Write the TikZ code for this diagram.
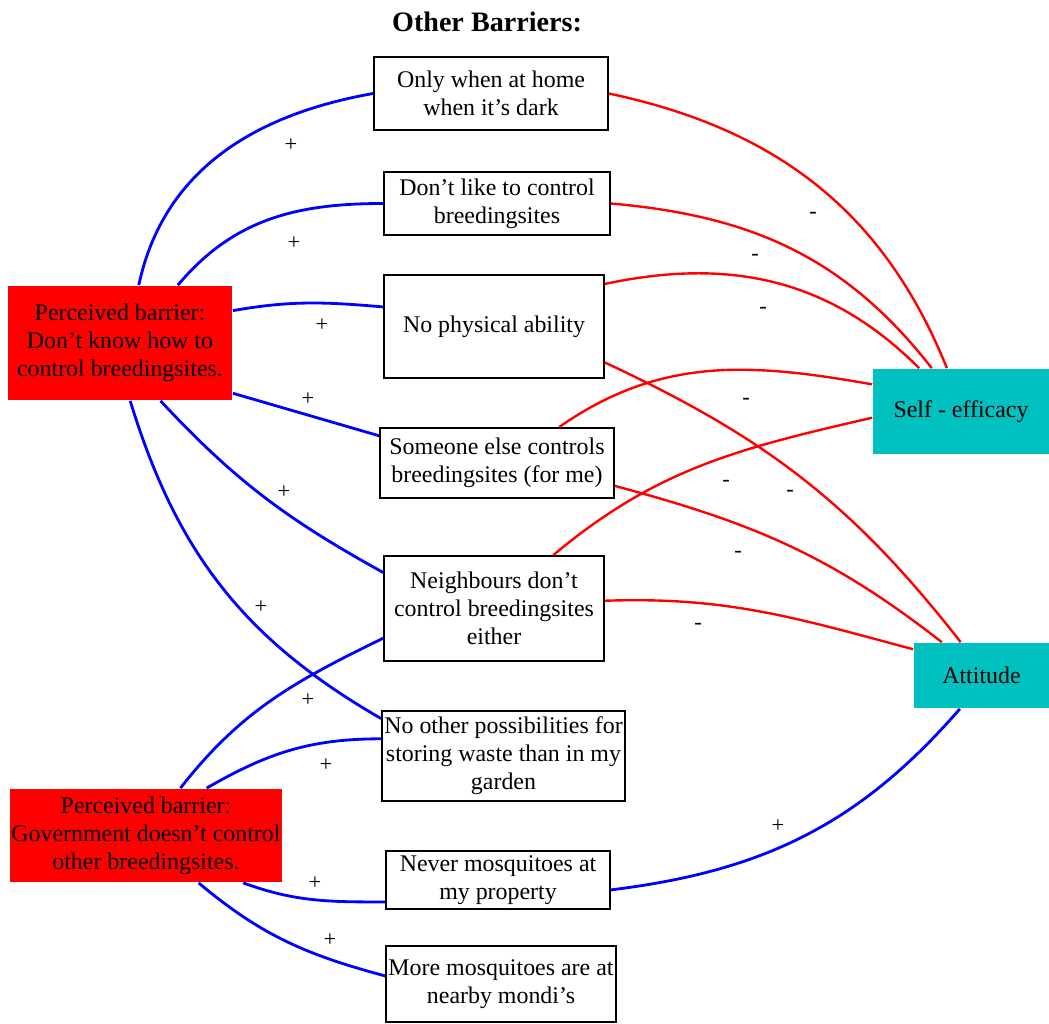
\documentclass[tikz,border=0pt]{standalone}
\usepackage{fontspec}
\setmainfont{Liberation Serif}
\usetikzlibrary{positioning}
\definecolor{outteal}{RGB}{0,192,192}

\begin{document}
\begin{tikzpicture}[
  x=0.025cm, y=0.025cm,
  font=\fontsize{17}{20}\selectfont,
  box/.style={draw, line width=1.2pt, fill=white, align=center, inner sep=0pt},
  barrier/.style={box, draw=none, fill=red},
  outcome/.style={box, draw=none, fill=outteal},
  posline/.style={draw=blue, line width=2pt},
  negline/.style={draw=red, line width=1.7pt},
  sign/.style={font=\fontsize{16}{18}\selectfont, inner sep=0pt}
]
  \useasboundingbox (0,0) rectangle (1049,-1023);

  \node[font=\bfseries\fontsize{20}{24}\selectfont] (title) at (487,-22) {Other Barriers:};

  % the other barriers
  \node[box, minimum width=5.85cm, minimum height=1.825cm] (home) at (491,-93.5) {Only when at home\\ when it’s dark};
  \node[box, minimum width=5.65cm, minimum height=1.575cm] (like) at (497,-203.5) {Don’t like to control\\ breedingsites};
  \node[box, minimum width=5.5cm, minimum height=2.575cm] (phys) at (494,-326.5) {No physical ability};
  \node[box, minimum width=5.85cm, minimum height=1.75cm] (else) at (497,-463) {Someone else controls\\ breedingsites (for me)};
  \node[box, minimum width=5.5cm, minimum height=2.625cm] (neigh) at (494,-608.5) {Neighbours don’t\\ control breedingsites\\ either};
  \node[box, minimum width=6.075cm, minimum height=2.25cm] (waste) at (503.5,-756) {No other possibilities for\\ storing waste than in my\\ garden};
  \node[box, minimum width=5.6cm, minimum height=1.45cm] (never) at (498,-880) {Never mosquitoes at\\ my property};
  \node[box, minimum width=5.75cm, minimum height=1.9cm] (mondi) at (501,-984) {More mosquitoes are at\\ nearby mondi’s};

  % perceived barriers and outcomes
  \node[barrier, minimum width=5.6cm, minimum height=2.85cm] (know) at (120,-343) {Perceived barrier:\\ Don’t know how to\\ control breedingsites.};
  \node[barrier, minimum width=6.8cm, minimum height=2.325cm] (gov) at (146,-835.5) {Perceived barrier:\\ Government doesn’t control\\ other breedingsites.};
  \node[outcome, minimum width=4.4cm, minimum height=2.125cm] (eff) at (961,-411.5) {Self - efficacy};
  \node[outcome, minimum width=3.375cm, minimum height=1.625cm] (att) at (981.5,-675.5) {Attitude};

  % positive links
  \draw[posline] (know.72) to[out=78, in=190] (home.west);
  \draw[posline] (know.45) to[out=50, in=180] (like.west);
  \draw[posline] (know.16) to[out=10, in=175] (phys.170);
  \draw[posline] (know.336) -- (else.167);
  \draw[posline] (know.305) to[out=-47, in=151] (neigh.162);
  \draw[posline] (know.280) to[out=-73, in=150] (waste.163);
  \draw[posline] (gov.54) to[out=52, in=206] (neigh.195);
  \draw[posline] (gov.38) to[out=30, in=180] (waste.172);
  \draw[posline] (gov.334) to[out=-20, in=180] (never.191);
  \draw[posline] (gov.318) to[out=-40, in=165] (mondi.176);
  \draw[posline] (att.237) to[out=-131, in=7] (never.355);

  % negative links
  \draw[negline] (home.east) to[out=-12, in=112] (eff.108);
  \draw[negline] (like.east) to[out=-5, in=128] (eff.124);
  \draw[negline] (phys.21) to[out=12, in=135] (eff.134);
  \draw[negline] (else.30) to[out=35, in=170] (eff.163);
  \draw[negline] (neigh.42) to[out=40, in=193] (eff.184);
  \draw[negline] (phys.342) to[out=-25, in=128] (att.122);
  \draw[negline] (else.349) to[out=-15, in=142] (att.140);
  \draw[negline] (neigh.4) to[out=2, in=165] (att.159);

  \node[sign] (p1) at (291,-145) {+};
  \node[sign] (p2) at (294,-243) {+};
  \node[sign] (p3) at (322,-325) {+};
  \node[sign] (p4) at (308,-399) {+};
  \node[sign] (p5) at (284,-492) {+};
  \node[sign] (p6) at (261,-607) {+};
  \node[sign] (p7) at (308,-700) {+};
  \node[sign] (p8) at (326,-765) {+};
  \node[sign] (p9) at (315,-883) {+};
  \node[sign] (p10) at (330,-940) {+};
  \node[sign] (p11) at (778,-826) {+};
  \node[sign] (m1) at (813,-215) {-};
  \node[sign] (m2) at (755,-257) {-};
  \node[sign] (m3) at (763,-310) {-};
  \node[sign] (m4) at (746,-401) {-};
  \node[sign] (m5) at (726,-483) {-};
  \node[sign] (m6) at (790,-493) {-};
  \node[sign] (m7) at (738,-554) {-};
  \node[sign] (m8) at (698,-626) {-};
\end{tikzpicture}
\end{document}
